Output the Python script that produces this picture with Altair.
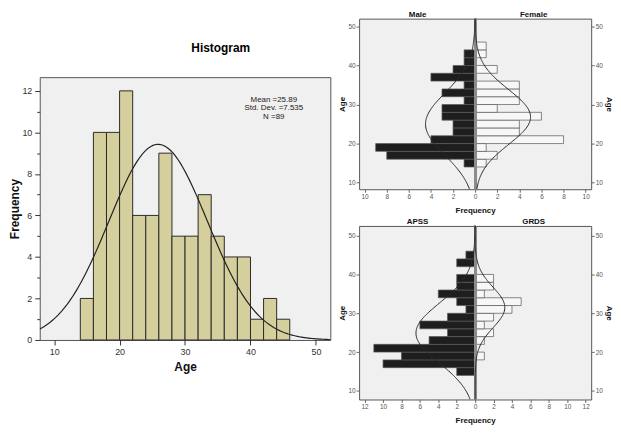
import altair as alt
import pandas as pd
import numpy as np

FONT = "Liberation Sans"

# ---- data ----
BIN_START = [14, 16, 18, 20, 22, 24, 26, 28, 30, 32, 34, 36, 38, 40, 42, 44]
BIN_WIDTH = 2
ALL_COUNTS = [2, 10, 10, 12, 6, 6, 9, 5, 5, 7, 5, 4, 4, 1, 2, 1]
MALE = [1, 8, 9, 4, 2, 2, 3, 3, 1, 3, 1, 4, 2, 1, 1, 0]
FEMALE = [1, 2, 1, 8, 4, 4, 6, 2, 4, 4, 4, 0, 2, 0, 1, 1]
APSS = [2, 10, 8, 11, 5, 3, 6, 3, 1, 2, 4, 2, 2, 0, 2, 1]
GRDS = [0, 0, 1, 0, 1, 2, 1, 2, 4, 5, 1, 2, 2, 0, 0, 0]

# normal-curve parameters (mean, sd, n)
MAIN_FIT = (25.89, 7.535, 89)
MALE_FIT = (25.0, 8.0, 45)
FEMALE_FIT = (26.8, 7.0, 44)
APSS_FIT = (24.9, 7.7, 62)
GRDS_FIT = (31.5, 5.2, 21)

MAIN_X_TICKS = [10, 20, 30, 40, 50]
MAIN_Y_TICKS = [0, 1, 2, 3, 4, 5, 6, 7, 8, 9, 10, 11, 12]
AGE_TICKS = [10, 20, 30, 40, 50]


def normal_curve(fit, lo, hi, sign=1, group="g"):
    m, s, n = fit
    ages = np.linspace(lo, hi, 160)
    vals = n * BIN_WIDTH * np.exp(-0.5 * ((ages - m) / s) ** 2) / (s * np.sqrt(2 * np.pi))
    return pd.DataFrame({"age": ages, "v": sign * vals, "g": group})


# ---- main histogram ----
x_dom = [7.8, 52.2]
y_dom = [0, 12.66]
main_df = pd.DataFrame({
    "lo": BIN_START,
    "hi": [b + BIN_WIDTH for b in BIN_START],
    "count": ALL_COUNTS,
})
main_curve = normal_curve(MAIN_FIT, x_dom[0], x_dom[1])
stat_df = pd.DataFrame({"t": [
    f"Mean ={MAIN_FIT[0]}\nStd. Dev. ={MAIN_FIT[1]}\nN ={MAIN_FIT[2]}"
]})

x_main = alt.Scale(domain=x_dom, nice=False, zero=False)
y_main = alt.Scale(domain=y_dom, nice=False)
x_axis_main = alt.Axis(values=MAIN_X_TICKS, title="Age", tickSize=5, labelPadding=3,
                       labelFontSize=9, titleFontSize=12, titlePadding=5, domain=False,
                       grid=False)
y_axis_main = alt.Axis(values=MAIN_Y_TICKS, title="Frequency",
                       tickSize={"condition": {"test": "datum.value % 2 === 1", "value": 3},
                                 "value": 5},
                       labelExpr="datum.value % 2 === 1 ? '' : datum.label",
                       labelPadding=3, labelFontSize=9, titleFontSize=12, titlePadding=0,
                       domain=False, grid=False)

bars = alt.Chart(main_df).mark_bar(fill="#d4cf9c", stroke="#2b2b2b", strokeWidth=1).encode(
    x=alt.X("lo:Q", scale=x_main, axis=x_axis_main),
    x2="hi:Q",
    y=alt.Y("count:Q", scale=y_main, axis=y_axis_main),
    y2=alt.datum(0),
)
curve = alt.Chart(main_curve).mark_line(color="#222222", strokeWidth=1.2, clip=True).encode(
    x=alt.X("age:Q", scale=x_main, axis=x_axis_main),
    y=alt.Y("v:Q", scale=y_main, axis=y_axis_main),
    order="age:Q",
)
stats = alt.Chart(stat_df).mark_text(lineBreak="\n", fontSize=8, lineHeight=8.5,
                                     color="#222", align="center", baseline="top").encode(
    x=alt.value(236), y=alt.value(19), text="t:N")

main = alt.layer(bars, curve, stats).properties(
    width=293, height=265,
    title=alt.TitleParams("Histogram", fontSize=12, fontWeight="bold", font=FONT,
                          offset=22, dx=36, anchor="middle"),
)

spacer = alt.Chart(pd.DataFrame({"a": [0]})).mark_point(opacity=0).encode(
    x=alt.value(0), y=alt.value(0)
).properties(width=293, height=23, view=alt.ViewBackground(fill=None, stroke=None))

left_col = alt.vconcat(spacer, main, spacing=0)


# ---- pyramids ----
def pyramid(left, right, lname, rname, fills, strokes, lfit, rfit, xmax, ticks, ydom, h):
    rows = []
    for s, a, b in zip(BIN_START, left, right):
        if a:
            rows.append(dict(lo=s, hi=s + BIN_WIDTH, v=-a, g="L"))
        if b:
            rows.append(dict(lo=s, hi=s + BIN_WIDTH, v=b, g="R"))
    df = pd.DataFrame(rows)
    cdf = pd.concat([normal_curve(lfit, ydom[0], ydom[1], -1, "L"),
                     normal_curve(rfit, ydom[0], ydom[1], 1, "R")])
    xs = alt.Scale(domain=[-xmax, xmax], nice=False, zero=False)
    ys = alt.Scale(domain=ydom, nice=False, zero=False)
    xt = [-t for t in ticks[::-1] if t > 0] + ticks
    common = dict(tickSize=3, labelFontSize=6.5, labelColor="#555", tickColor="#666",
                  domain=False, titleFontSize=8, titleFontWeight="bold", grid=False)
    b = alt.Chart(df).mark_bar(strokeWidth=0.7).encode(
        x=alt.X("v:Q", scale=xs,
                axis=alt.Axis(values=xt, labelExpr="format(abs(datum.value), 'd')",
                              title="Frequency", labelPadding=1, titlePadding=7, **common)),
        x2=alt.datum(0),
        y=alt.Y("lo:Q", scale=ys,
                axis=alt.Axis(values=AGE_TICKS, title="Age", orient="left", labelPadding=1,
                              titlePadding=1, **common)),
        y2="hi:Q",
        fill=alt.Fill("g:N", scale=alt.Scale(domain=["L", "R"], range=fills), legend=None),
        stroke=alt.Stroke("g:N", scale=alt.Scale(domain=["L", "R"], range=strokes), legend=None),
    )
    r = alt.Chart(df).mark_rule(color="#8c8c8c", strokeWidth=2).encode(
        x=alt.XDatum(0, scale=xs, axis=None))
    c = alt.Chart(cdf).mark_line(color="#2a2a2a", strokeWidth=1, clip=True).encode(
        x=alt.X("v:Q", scale=xs,
                axis=alt.Axis(values=[-xmax / 2, xmax / 2], orient="top", ticks=False, domain=False,
                              labelExpr=f"datum.value < 0 ? '{lname}' : '{rname}'",
                              labelFontSize=8, labelFontWeight="bold", labelColor="#111",
                              labelPadding=0, title=None, grid=False)),
        y=alt.Y("age:Q", scale=ys,
                axis=alt.Axis(values=AGE_TICKS, title="Age", orient="right", labelPadding=1,
                              titlePadding=2, **common)),
        detail="g:N",
        order="age:Q",
    )
    return alt.layer(b, r, c).resolve_axis(x="independent", y="independent").properties(
        width=234, height=h)


top = pyramid(MALE, FEMALE, "Male", "Female", ["#1e1e1e", "#f7f7f7"], ["#5a5a5a", "#555555"],
              MALE_FIT, FEMALE_FIT, 10.5, [0, 2, 4, 6, 8, 10], [8.3, 52.0], 172)
bottom = pyramid(APSS, GRDS, "APSS", "GRDS", ["#1e1e1e", "#e2e2e2"], ["#5a5a5a", "#666666"],
                 APSS_FIT, GRDS_FIT, 12.6, [0, 2, 4, 6, 8, 10, 12], [7.8, 52.5], 175)

right_col = alt.vconcat(top, bottom, spacing=2)

chart = alt.hconcat(left_col, right_col, spacing=7).properties(
    padding=0,
    background="white",
).configure_view(
    fill="#f0f0f0", stroke="#555555", strokeWidth=1
).configure_axis(
    labelFont=FONT, titleFont=FONT, labelColor="#333", tickColor="#333",
    titleColor="#111", titleFontWeight="bold", grid=False,
).configure_text(font=FONT)

chart.save("out.html", embed_options={"renderer": "svg", "actions": False})
